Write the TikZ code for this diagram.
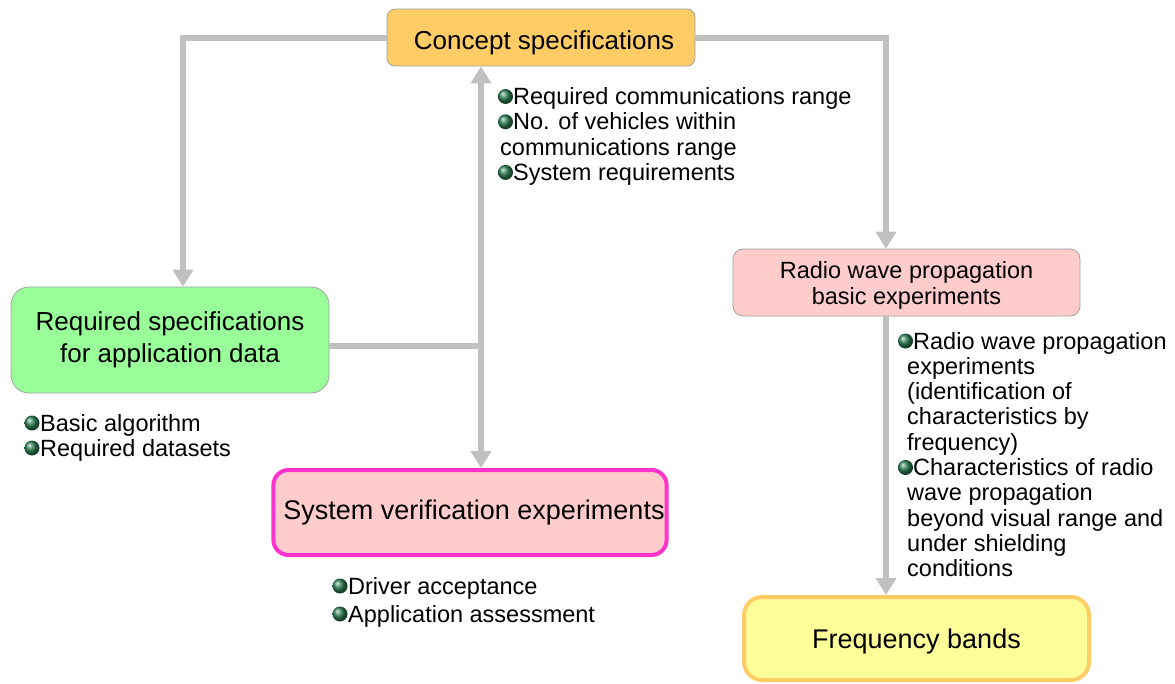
\documentclass[tikz,border=0pt]{standalone}
\usepackage{fontspec}
\setmainfont{Liberation Sans}
\usetikzlibrary{arrows.meta}
\definecolor{conn}{HTML}{C0C0C0}
\definecolor{bordergray}{HTML}{A0A0A0}
\definecolor{conceptfill}{HTML}{FFCC66}
\definecolor{reqfill}{HTML}{99FF99}
\definecolor{pinkfill}{HTML}{FFCCCC}
\definecolor{magentaline}{HTML}{FF33CC}
\definecolor{yellowfill}{HTML}{FFFF99}
\definecolor{orangeline}{HTML}{FFCC66}
\definecolor{bgreen}{HTML}{2E8055}
\newcommand\lowertext[2]{\raisebox{-#1}[\height][\depth]{#2}}
\begin{document}
\begin{tikzpicture}[x=1pt,y=-1pt,
  box/.style={draw=bordergray, line width=0.8pt, align=center, inner sep=2pt,
              font=\fontsize{26}{32}\selectfont},
  conline/.style={draw=conn, line width=6pt},
  tip/.style={-{Triangle[width=20pt,length=17pt]}},
  bt/.style={anchor=base west, align=left, inner sep=0pt},
  gball/.style={ball color=bgreen}
]
\useasboundingbox (0,0) rectangle (1175,683);

% boxes
\node[box, fill=conceptfill, rounded corners=8pt, minimum width=308pt, minimum height=57pt]
  (concept) at (541,37.5) {\lowertext{5pt}{\hspace*{6pt}Concept specifications}};
\node[box, fill=reqfill, rounded corners=18pt, minimum width=318pt, minimum height=106pt]
  (required) at (170,340) {Required specifications\\for application data};
\node[box, fill=pinkfill, draw=magentaline, line width=4pt, rounded corners=15pt,
  minimum width=392pt, minimum height=85pt, font=\fontsize{27}{32}\selectfont]
  (system) at (470,512.5) {\hspace*{8pt}System verification experiments};
\node[box, fill=pinkfill, rounded corners=10pt, minimum width=347pt, minimum height=67pt,
  font=\fontsize{23.5}{27}\selectfont]
  (radio) at (906.5,282.5) {\lowertext{3pt}{\shortstack{Radio wave propagation\\[1pt]basic experiments}}};
\node[box, fill=yellowfill, draw=orangeline, line width=4pt, rounded corners=18pt,
  minimum width=345pt, minimum height=83pt, font=\fontsize{27}{32}\selectfont]
  (freq) at (916.5,638.5) {\lowertext{3pt}{Frequency bands}};

% connectors
\coordinate (jn) at (481,346);
\draw[conline, tip] (concept.west) -| ([xshift=13pt]required.north);
\draw[conline, tip] (concept.east) -| ([xshift=-20.5pt]radio.north);
\draw[conline, tip] ([xshift=-20.5pt]radio.south) -- ([xshift=-30.5pt]freq.north);
\draw[conline, {Triangle[width=20pt,length=17pt]}-{Triangle[width=20pt,length=17pt]}]
  ([xshift=-60pt]concept.south) -- ([xshift=11pt]system.north);
\draw[conline] ([yshift=-6pt]required.east) -- (jn);

% bullet texts (base anchor = baseline of the last line)
\node[bt, font=\fontsize{23.5}{25.3}\selectfont] (topb) at (497,180.4)
  {\hspace*{16pt}Required communications range\\
   \hspace*{16pt}No. of vehicles within\\
   \hspace*{3pt}communications range\\
   \hspace*{16pt}System requirements};
\shade[gball] (505.5,96.5) circle (7.5pt);
\shade[gball] (505.5,121.8) circle (7.5pt);
\shade[gball] (505.5,172.4) circle (7.5pt);

\node[bt, font=\fontsize{23.5}{25}\selectfont] (leftb) at (23,456)
  {\hspace*{17pt}Basic algorithm\\
   \hspace*{17pt}Required datasets};
\shade[gball] (32,423) circle (7.5pt);
\shade[gball] (32,448) circle (7.5pt);

\node[bt, font=\fontsize{23.5}{28}\selectfont] (botb) at (332,622)
  {\hspace*{16pt}Driver acceptance\\
   \hspace*{16pt}Application assessment};
\shade[gball] (340,586) circle (7.5pt);
\shade[gball] (340,614) circle (7.5pt);

\node[bt, font=\fontsize{23.5}{25.3}\selectfont] (rightb) at (897,576.7)
  {\hspace*{16pt}Radio wave propagation\\
   \hspace*{10pt}experiments\\
   \hspace*{10pt}(identification of\\
   \hspace*{10pt}characteristics by\\
   \hspace*{10pt}frequency)\\
   \hspace*{16pt}Characteristics of radio\\
   \hspace*{10pt}wave propagation\\
   \hspace*{10pt}beyond visual range and\\
   \hspace*{10pt}under shielding\\
   \hspace*{10pt}conditions};
\shade[gball] (905.5,341) circle (7.5pt);
\shade[gball] (905.5,467.5) circle (7.5pt);
\end{tikzpicture}
\end{document}
